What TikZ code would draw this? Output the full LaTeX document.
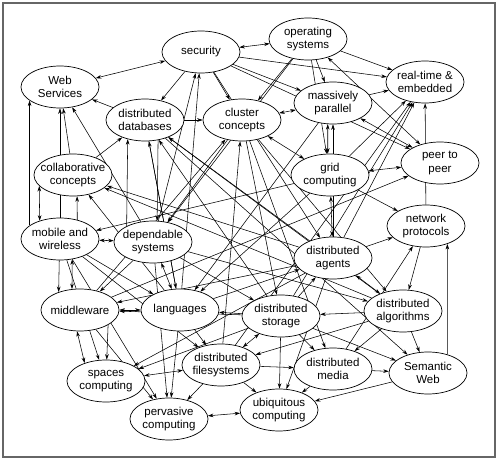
\documentclass[tikz,border=0pt]{standalone}
\usepackage{fontspec}
\setmainfont{Liberation Sans}
\usetikzlibrary{shapes.geometric,arrows.meta}
\pgfdeclarelayer{edgelayer}
\pgfsetlayers{edgelayer,main}
\begin{document}
\begin{tikzpicture}[x=1pt,y=-1pt,
  gnode/.style={ellipse, draw, fill=white, line width=0.7pt, minimum width=78pt, minimum height=42pt, inner sep=0pt},
  gtext/.style={align=center, font=\fontsize{11.5}{13.5}\selectfont, inner sep=0pt},
  edge/.style={line width=0.55pt, -{Stealth[length=5.5pt,width=3.6pt]}},
  bidir/.style={line width=0.55pt, {Stealth[length=5.5pt,width=3.6pt]}-{Stealth[length=5.5pt,width=3.6pt]}}]
\useasboundingbox (0,0) rectangle (499,460);
\draw[gray!80!black, line width=1.3pt] (3,3) rectangle (495,457);

\node[gnode] (SEC) at (201,52) {};   \node[gtext] (SECt) at (SEC) {security};
\node[gnode] (WS) at (60,87) {};     \node[gtext] (WSt) at (WS) {Web\\Services};
\node[gnode] (DDB) at (145,120) {};  \node[gtext] (DDBt) at (DDB) {distributed\\databases};
\node[gnode] (CC) at (242,120) {};   \node[gtext] (CCt) at (CC) {cluster\\concepts};
\node[gnode] (OS) at (308,39) {};    \node[gtext] (OSt) at (OS) {operating\\systems};
\node[gnode] (RT) at (425,82) {};    \node[gtext] (RTt) at (RT) {real-time \&\\embedded};
\node[gnode] (MP) at (333,103) {};   \node[gtext] (MPt) at (MP) {massively\\parallel};
\node[gnode] (GC) at (330,175) {};   \node[gtext] (GCt) at (GC) {grid\\computing};
\node[gnode] (PP) at (440,163) {};   \node[gtext] (PPt) at (PP) {peer to\\peer};
\node[gnode] (COL) at (73,175) {};   \node[gtext] (COLt) at (COL) {collaborative\\concepts};
\node[gnode] (MW) at (60,239) {};    \node[gtext] (MWt) at (MW) {mobile and\\wireless};
\node[gnode] (DS) at (153,242) {};   \node[gtext] (DSt) at (DS) {dependable\\systems};
\node[gnode] (NP) at (426,226) {};   \node[gtext] (NPt) at (NP) {network\\protocols};
\node[gnode] (DA) at (333,258) {};   \node[gtext] (DAt) at (DA) {distributed\\agents};
\node[gnode] (MID) at (80,310) {};   \node[gtext] (MIDt) at (MID) {middleware};
\node[gnode] (LANG) at (180,310) {}; \node[gtext] (LANGt) at (LANG) {languages};
\node[gnode] (DST) at (281,316) {};  \node[gtext] (DSTt) at (DST) {distributed\\storage};
\node[gnode] (DALG) at (403,311) {}; \node[gtext] (DALGt) at (DALG) {distributed\\algorithms};
\node[gnode] (SP) at (106,381) {};   \node[gtext] (SPt) at (SP) {spaces\\computing};
\node[gnode] (DFS) at (221,365) {};  \node[gtext] (DFSt) at (DFS) {distributed\\filesystems};
\node[gnode] (DM) at (333,369) {};   \node[gtext] (DMt) at (DM) {distributed\\media};
\node[gnode] (SW) at (428,373) {};   \node[gtext] (SWt) at (SW) {Semantic\\Web};
\node[gnode] (PC) at (169,419) {};   \node[gtext] (PCt) at (PC) {pervasive\\computing};
\node[gnode] (UC) at (279,410) {};   \node[gtext] (UCt) at (UC) {ubiquitous\\computing};

\begin{pgfonlayer}{edgelayer}
\draw[bidir] (SEC) -- (WS);
\draw[bidir] (SEC) -- (OS);
\draw[edge] (SEC) -- (DDB);
\draw[edge] (SEC) -- (CC);
\draw[edge] (SEC) -- (RT);
\draw[edge] (SEC) -- (PP);
\draw[edge] (SEC) -- (MP);
\draw[edge] (DS) -- (SEC);
\draw[edge] (LANG) -- (SEC);
\draw[edge] (SEC) -- (DA);
\draw[edge] (OS) -- (RT);
\draw[edge] (OS) -- (MP);
\draw[edge] (OS) -- (CC);
\draw[edge] (OS) -- (DS);
\draw[bidir] (OS) -- (PP);
\draw[edge] (OS) -- (GC);
\draw[bidir] (CC) -- (MP);
\draw[bidir] (MP.256) -- (GC.96);
\draw[edge] (DA) -- (MP);
\draw[bidir] (CC) -- (GC);
\draw[bidir] (GC) -- (PP);
\draw[bidir] (MP) -- (PP);
\draw[edge] (MP) -- (RT);
\draw[edge] (GC) -- (RT);
\draw[edge] (DA) -- (RT);
\draw[edge] (DST) -- (RT);
\draw[edge] (NP) -- (RT);
\draw[edge] (DFS) -- (RT);
\draw[edge] (GC) -- (NP);
\draw[bidir] (GC) -- (DA);
\draw[edge] (DA) -- (NP);
\draw[bidir] (DA) -- (DALG);
\draw[edge] (NP) -- (DALG);
\draw[edge] (DM) -- (NP);
\draw[edge] (SW.44) -- (NP.320);
\draw[edge] (DALG) -- (SW);
\draw[edge] (DALG) -- (DST);
\draw[edge] (DALG) -- (DM);
\draw[edge] (DM) -- (SW);
\draw[edge] (SW) -- (UC);
\draw[edge] (DM) -- (UC);
\draw[edge] (DST) -- (UC);
\draw[edge] (DA) -- (UC);
\draw[bidir] (PC) -- (UC);
\draw[edge] (DFS) -- (PC);
\draw[edge] (DFS) -- (UC);
\draw[edge] (LANG) -- (PC);
\draw[edge] (DS) -- (PC);
\draw[edge] (LANG) -- (DFS);
\draw[edge] (MW) -- (DFS);
\draw[edge] (MW) -- (LANG);
\draw[edge] (MW) -- (PC);
\draw[bidir] (SP) -- (DFS);
\draw[edge] (DA) -- (SP);
\draw[edge] (DST) -- (SP);
\draw[bidir] (DST) -- (DFS);
\draw[edge] (DFS) -- (DM);
\draw[edge] (DALG) -- (DFS);
\draw[edge] (DST) -- (DM);
\draw[edge] (DST) -- (SW);
\draw[edge] (DDB) -- (SW);
\draw[edge] (MID) -- (PC);
\draw[bidir] (MID.262) -- (SP.140);
\draw[edge] (MID.332) -- (SP.88);
\draw[edge] (MW) -- (SP);
\draw[bidir] (MID) -- (LANG);
\draw[edge] (MW.268) -- (MID.140);
\draw[bidir] (MW.301) -- (MID.111);
\draw[edge] (DS) -- (MID);
\draw[edge] (DA) -- (MID);
\draw[edge] (DST) -- (MID);
\draw[edge] (MID) -- (PP);
\draw[bidir] (MW) -- (DS);
\draw[edge] (GC) -- (MW);
\draw[bidir] (COL.198) -- (MW.138);
\draw[edge] (MW.48) -- (COL.281);
\draw[edge] (MW.156) -- (WS.204);
\draw[edge] (MW) -- (WS);
\draw[edge] (COL) -- (WS);
\draw[edge] (DDB) -- (WS);
\draw[edge] (DS) -- (WS);
\draw[edge] (COL) -- (DDB);
\draw[edge] (DS.149) -- (DDB.228);
\draw[edge] (DDB.303) -- (DS.79);
\draw[edge] (LANG) -- (DDB);
\draw[edge] (DDB) -- (CC);
\draw[edge] (DA) -- (DDB);
\draw[edge] (DALG) -- (DDB);
\draw[edge] (DST) -- (DDB);
\draw[edge] (CC) -- (DS);
\draw[edge] (DA) -- (COL);
\draw[edge] (DALG) -- (COL);
\draw[edge] (LANG) -- (COL);
\draw[bidir] (DS) -- (LANG);
\draw[edge] (DDB) -- (LANG);
\draw[edge] (GC) -- (LANG);
\draw[edge] (MP) -- (LANG);
\draw[edge] (DST) -- (LANG);
\draw[edge] (DS) -- (DST);
\draw[edge] (LANG) -- (DA);
\draw[edge] (DST) -- (DA);
\draw[edge] (DS) -- (DALG);
\draw[edge] (CC) -- (DALG);
\draw[edge] (CC) -- (DST);
\draw[edge] (DFS) -- (CC);
\draw[edge] (MID) -- (CC);
\draw[edge] (CC) -- (DM);
\end{pgfonlayer}
\end{tikzpicture}
\end{document}
